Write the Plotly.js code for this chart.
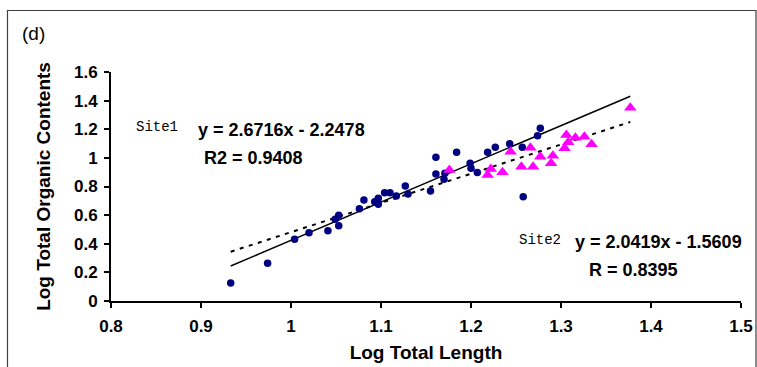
<!DOCTYPE html>
<html>
<head>
<meta charset="utf-8">
<script src="https://cdn.plot.ly/plotly-3.0.1.min.js"></script>
<style>
  html, body { margin: 0; padding: 0; background: #fff; }
  #chart { width: 757px; height: 367px; }
</style>
</head>
<body>
<div id="chart"></div>
<script>
// Site 1 (circles)
const site1X = [0.933, 0.974, 1.004, 1.020, 1.041, 1.049, 1.053, 1.053, 1.076, 1.081,
                1.093, 1.097, 1.097, 1.104, 1.110, 1.117, 1.127, 1.130, 1.155, 1.161,
                1.161, 1.170, 1.171, 1.184, 1.199, 1.200, 1.207, 1.2185, 1.227, 1.243,
                1.257, 1.258, 1.274, 1.277];
const site1Y = [0.125, 0.263, 0.431, 0.477, 0.491, 0.571, 0.599, 0.526, 0.645, 0.705,
                0.694, 0.718, 0.676, 0.757, 0.757, 0.734, 0.804, 0.748, 0.769, 1.004,
                0.887, 0.850, 0.892, 1.039, 0.962, 0.927, 0.897, 1.039, 1.074, 1.099,
                1.074, 0.729, 1.155, 1.207];
// Site 2 (triangles)
const site2X = [1.176, 1.2185, 1.222, 1.235, 1.244, 1.256, 1.266, 1.269, 1.277, 1.289,
                1.291, 1.304, 1.306, 1.308, 1.316, 1.326, 1.334, 1.377];
const site2Y = [0.915, 0.880, 0.922, 0.899, 1.043, 0.938, 1.071, 0.938, 1.008, 0.962,
                1.015, 1.067, 1.160, 1.109, 1.141, 1.148, 1.095, 1.351];
// Trendline coefficients [slope, intercept]
const trend1 = [2.6716, -2.2478];
const trend2 = [2.0419, -1.5609];
// Labels
const xTitle = "Log Total Length";
const yTitle = "Log Total Organic Contents";
const panelLabel = "(d)";
const eq1 = "y = 2.6716x - 2.2478";
const r1 = "R2 = 0.9408";
const eq2 = "y = 2.0419x - 1.5609";
const r2 = "R = 0.8395";
const site1Label = "Site1";
const site2Label = "Site2";

const allX = site1X.concat(site2X);
const xmin = Math.min(...allX), xmax = Math.max(...allX);
const lineX = [xmin, xmax];
const line1Y = lineX.map(x => trend1[0] * x + trend1[1]);
const line2Y = lineX.map(x => trend2[0] * x + trend2[1]);

const FONT = "Liberation Sans, Arial, sans-serif";
const MONO = "Liberation Mono, Courier New, monospace";

const traces = [
  { x: lineX, y: line2Y, mode: "lines", type: "scatter",
    line: { color: "#000", width: 2, dash: "4px,5.5px" }, hoverinfo: "skip" },
  { x: lineX, y: line1Y, mode: "lines", type: "scatter",
    line: { color: "#000", width: 1.5 }, hoverinfo: "skip" },
  { x: site1X, y: site1Y, mode: "markers", type: "scatter",
    marker: { symbol: "circle", size: 7.5, color: "#000080" } },
  { x: site2X, y: site2Y, mode: "markers", type: "scatter",
    marker: { symbol: "triangle-up", size: 11, color: "#FF00FF" } }
];

const bold = (s) => "<b>" + s + "</b>";

const layout = {
  width: 757, height: 367,
  margin: { l: 111, r: 16, t: 72, b: 66, pad: 0 },
  paper_bgcolor: "#fff", plot_bgcolor: "#fff",
  showlegend: false,
  font: { family: FONT, color: "#000" },
  xaxis: {
    range: [0.8, 1.5], dtick: 0.1, tick0: 0.8,
    showgrid: false, zeroline: false,
    showline: true, linecolor: "#000", linewidth: 2,
    ticks: "outside", ticklen: 5, tickwidth: 2, tickcolor: "#000",
    ticklabelstandoff: 4,
    tickfont: { family: FONT, size: 17, color: "#000", weight: "bold" },
    title: { text: bold(xTitle), font: { family: FONT, size: 19, color: "#000" }, standoff: 10 },
    automargin: false, fixedrange: true
  },
  yaxis: {
    range: [0, 1.6], dtick: 0.2, tick0: 0,
    showgrid: false, zeroline: false,
    showline: true, linecolor: "#000", linewidth: 2,
    ticks: "outside", ticklen: 5, tickwidth: 2, tickcolor: "#000",
    ticklabelstandoff: 3,
    tickfont: { family: FONT, size: 17, color: "#000", weight: "bold" },
    title: { text: bold(yTitle), font: { family: FONT, size: 19, color: "#000" }, standoff: 18 },
    automargin: false, fixedrange: true
  },
  annotations: [
    { xref: "paper", yref: "paper", x: -0.1444, y: 1.170, xanchor: "left", yanchor: "middle",
      text: panelLabel, showarrow: false, font: { family: FONT, size: 19, color: "#000" } },
    { xref: "x", yref: "y", x: 0.8256, y: 1.216, xanchor: "left", yanchor: "middle",
      text: site1Label, showarrow: false, font: { family: MONO, size: 14, color: "#000" } },
    { xref: "x", yref: "y", x: 0.8944, y: 1.195, xanchor: "left", yanchor: "middle",
      text: bold(eq1), showarrow: false, font: { family: FONT, size: 18, color: "#000" } },
    { xref: "x", yref: "y", x: 0.9011, y: 0.999, xanchor: "left", yanchor: "middle",
      text: bold(r1), showarrow: false, font: { family: FONT, size: 18, color: "#000" } },
    { xref: "x", yref: "y", x: 1.2511, y: 0.426, xanchor: "left", yanchor: "middle",
      text: site2Label, showarrow: false, font: { family: MONO, size: 14, color: "#000" } },
    { xref: "x", yref: "y", x: 1.3133, y: 0.412, xanchor: "left", yanchor: "middle",
      text: bold(eq2), showarrow: false, font: { family: FONT, size: 18, color: "#000" } },
    { xref: "x", yref: "y", x: 1.3289, y: 0.217, xanchor: "left", yanchor: "middle",
      text: bold(r2), showarrow: false, font: { family: FONT, size: 18, color: "#000" } }
  ],
  shapes: [
    { type: "path", xref: "paper", yref: "paper",
      path: "M -0.1643,-0.32 L -0.1643,1.2686 L 1.0238,1.2686 L 1.0238,-0.32",
      line: { color: "#404040", width: 1.2 } }
  ]
};

Plotly.newPlot("chart", traces, layout, { displayModeBar: false, staticPlot: true });
</script>
</body>
</html>
